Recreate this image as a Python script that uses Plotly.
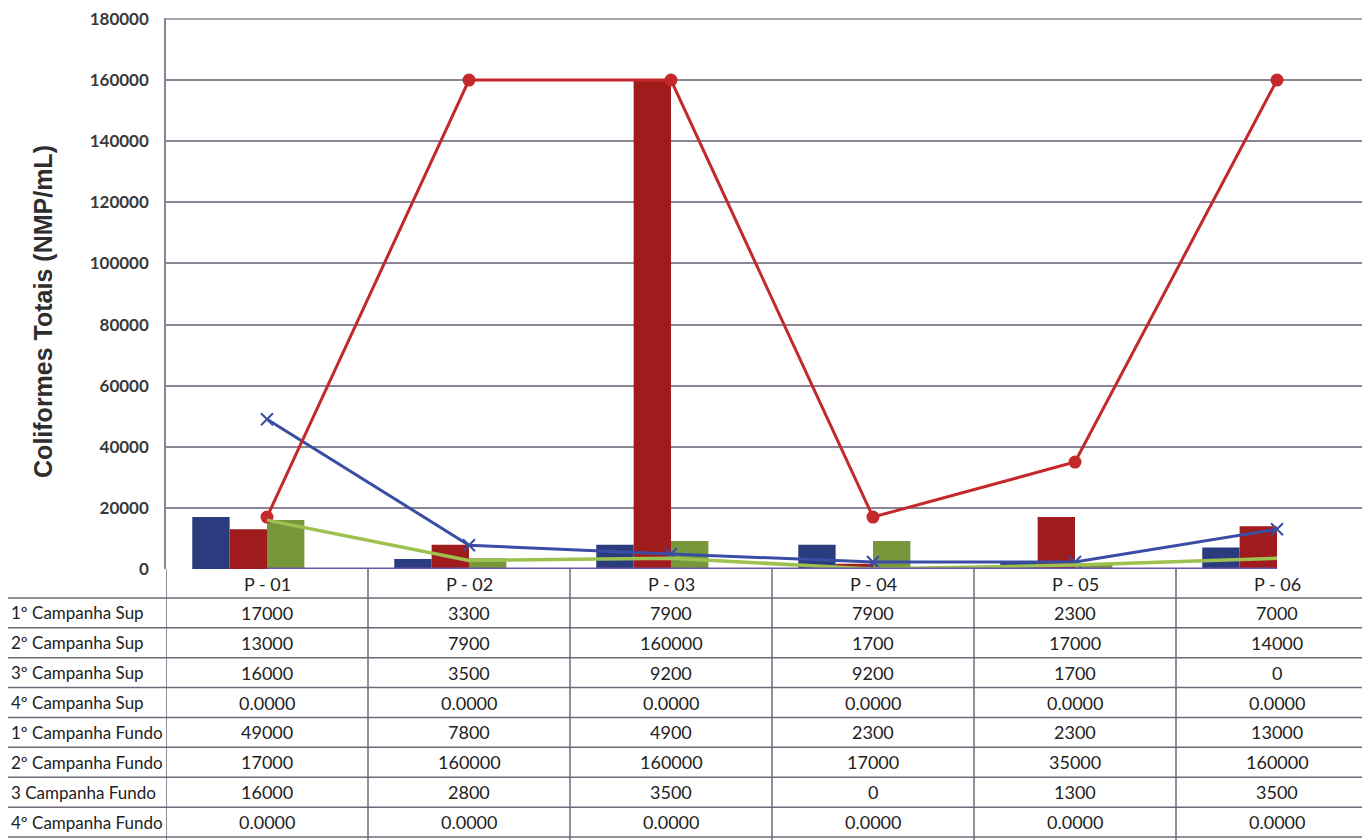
import plotly.graph_objects as go

categories = ["P - 01", "P - 02", "P - 03", "P - 04", "P - 05", "P - 06"]

sup_names = ["1º Campanha Sup", "2º Campanha Sup", "3º Campanha Sup", "4º Campanha Sup"]
sup1 = [17000, 3300, 7900, 7900, 2300, 7000]
sup2 = [13000, 7900, 160000, 1700, 17000, 14000]
sup3 = [16000, 3500, 9200, 9200, 1700, 0]
sup4 = [0, 0, 0, 0, 0, 0]

fundo_names = ["1º Campanha Fundo", "2º Campanha Fundo", "3 Campanha Fundo", "4º Campanha Fundo"]
fundo1 = [49000, 7800, 4900, 2300, 2300, 13000]
fundo2 = [17000, 160000, 160000, 17000, 35000, 160000]
fundo3 = [16000, 2800, 3500, 0, 1300, 3500]
fundo4 = [0, 0, 0, 0, 0, 0]

y_ticks = [0, 20000, 40000, 60000, 80000, 100000, 120000, 140000, 160000, 180000]
y_title = "Coliformes Totais (NMP/mL)"

# ---- layout geometry (screen pixels; page body has an 8px margin) ----
OFF = 8
W, H = 1370 - OFF, 840 - OFF
L_S, T_S = 166, 16        # screen px of plot left / top
B_S = 569                 # screen px of the zero line
L, T = L_S - OFF, T_S - OFF
PW = W - L
PH = B_S - T_S
CAT_W = 202.0
Y_TOP = 180000 * PH / (PH - 1)   # keep the 180000 line one pixel inside the plot

def py(p):
    """screen pixel y -> paper y"""
    return (B_S - p) / PH

def px(p):
    """screen pixel x -> paper x"""
    return (p - L_S) / PW

bar_colors = ["#2B3C7E", "#A01B1B", "#76973A", "#6A4E95"]
line_colors = ["#3A4DA4", "#C3282B", "#9CC14F", "#7052A6"]
grid_color = "#8A8494"

fig = go.Figure()

sup_vals = [sup1, sup2, sup3, sup4]
for name, vals, col in zip(sup_names, sup_vals, bar_colors):
    fig.add_trace(go.Bar(x=categories, y=vals, name=name, marker_color=col,
                         marker_line_width=0))

fundo_vals = [fundo1, fundo2, fundo3, fundo4]
fig.add_trace(go.Scatter(x=categories, y=fundo1, name=fundo_names[0], mode="lines+markers",
                         line=dict(color=line_colors[0], width=3),
                         marker=dict(symbol="x-thin-open", size=12,
                                     line=dict(color=line_colors[0], width=2))))
fig.add_trace(go.Scatter(x=categories, y=fundo2, name=fundo_names[1], mode="lines+markers",
                         line=dict(color=line_colors[1], width=3),
                         marker=dict(symbol="circle", size=13, color=line_colors[1])))
fig.add_trace(go.Scatter(x=categories, y=fundo3, name=fundo_names[2], mode="lines",
                         line=dict(color=line_colors[2], width=3.5)))
fig.add_trace(go.Scatter(x=categories, y=fundo4, name=fundo_names[3], mode="lines",
                         line=dict(color=line_colors[3], width=3)))

x_max = -0.5 + PW / CAT_W

fig.update_layout(
    width=W, height=H,
    margin=dict(l=L, r=0, t=T, b=H - (B_S - OFF), pad=0),
    paper_bgcolor="white", plot_bgcolor="white",
    barmode="group", bargap=0.26, bargroupgap=0,
    showlegend=False,
    font=dict(family="Lato, 'Open Sans', sans-serif", color="#333333"),
    xaxis=dict(type="category", range=[-0.5, x_max], showticklabels=False,
               showgrid=False, zeroline=False, showline=False, ticks=""),
    yaxis=dict(range=[0, Y_TOP], tickmode="array", tickvals=y_ticks,
               ticktext=[str(v) for v in y_ticks], showgrid=True,
               gridcolor=grid_color, gridwidth=1.5, zeroline=False,
               showline=True, linecolor=grid_color, linewidth=1.5, ticks="",
               tickfont=dict(family="Lato", size=17, color="#3A3A3A", weight="bold"),
               ticklabelstandoff=12, ticklabeloverflow="allow"),
)

# top gridline (drawn explicitly in case the edge gridline is suppressed)
fig.add_shape(type="line", xref="paper", yref="y", x0=0, x1=1, y0=y_ticks[-1], y1=y_ticks[-1],
              line=dict(color=grid_color, width=1.5), layer="below")

# y-axis title
fig.add_annotation(text="<b>" + y_title + "</b>", xref="paper", yref="paper",
                   x=px(43), y=py(311), textangle=-90, showarrow=False,
                   xanchor="center", yanchor="middle",
                   font=dict(family="Liberation Sans, Arial", size=25, color="#2E2E2E"))

# ---- data table ----
grid_col = "#6E6878"
for k in range(9):
    yy = py(598 + 30 * k)
    fig.add_shape(type="line", xref="paper", yref="paper", x0=px(OFF), x1=1.0,
                  y0=yy, y1=yy, line=dict(color=grid_col, width=1.5), layer="above")
for b in range(len(categories)):
    fig.add_shape(type="line", xref="x", yref="paper", x0=b - 0.5, x1=b - 0.5,
                  y0=0, y1=py(842), line=dict(color=grid_col, width=1.5), layer="above")

for c in categories:
    fig.add_annotation(text=c, x=c, xref="x", yref="paper", y=py(584), showarrow=False,
                       xanchor="center", yanchor="middle",
                       font=dict(family="Lato", size=18, color="#222222"))

row_names = sup_names + fundo_names
row_vals = sup_vals + fundo_vals
row_fmt = ["{:d}", "{:d}", "{:d}", "{:.4f}", "{:d}", "{:d}", "{:d}", "{:.4f}"]
for r, (nm, vals, fmt) in enumerate(zip(row_names, row_vals, row_fmt)):
    yc = py(613 + 30 * r)
    fig.add_annotation(text=nm, xref="paper", yref="paper", x=px(OFF + 1), y=yc,
                       showarrow=False, xanchor="left", yanchor="middle",
                       font=dict(family="Lato", size=17, color="#222222"))
    for c, v in zip(categories, vals):
        txt = fmt.format(int(v)) if fmt == "{:d}" else fmt.format(float(v))
        fig.add_annotation(text=txt, x=c, xref="x", yref="paper", y=yc, showarrow=False,
                           xanchor="center", yanchor="middle",
                           font=dict(family="Lato", size=18, color="#222222"))

fig.write_html("out.html")
